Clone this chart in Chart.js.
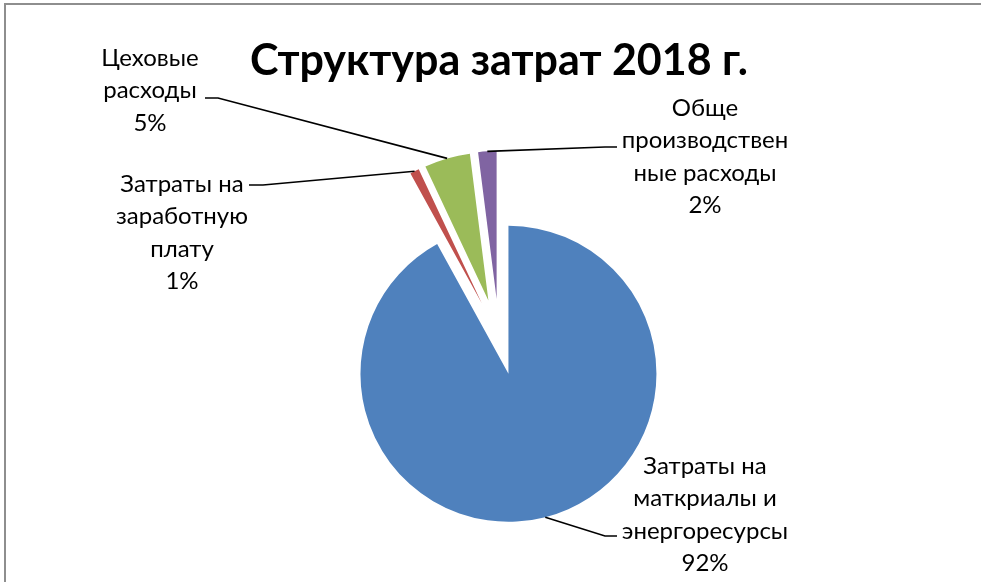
<!DOCTYPE html>
<html>
<head>
<meta charset="utf-8">
<script src="https://cdn.jsdelivr.net/npm/chart.js@4.4.1/dist/chart.umd.min.js"></script>
<style>
  html, body { margin: 0; padding: 0; background: #fff; overflow: hidden; }
  #wrap { position: relative; width: 981px; height: 582px; overflow: hidden; }
  #frame { position: absolute; left: 4px; top: 3px; width: 1100px; height: 700px;
           border-left: 2px solid #8e8e8e; border-top: 2px solid #8e8e8e; }
  canvas { position: absolute; left: 0; top: 0; }
</style>
</head>
<body>
<div id="wrap">
  <div id="frame"></div>
  <canvas id="c" width="981" height="582"></canvas>
</div>
<script>
// Cost structure for 2018, percent of total
const chartTitle = 'Структура затрат 2018 г.';
const categories = [
  ['Затраты на', 'маткриалы и', 'энергоресурсы'],
  ['Затраты на', 'заработную', 'плату'],
  ['Цеховые', 'расходы'],
  ['Обще', 'производствен', 'ные расходы']
];
const shares = [92, 1, 5, 2];
const sliceColors = ['#4F81BD', '#C0504D', '#9BBB59', '#8064A2'];

// Where each data label sits: text centre x, first-line centre y,
// the point where the leader meets the label, and the elbow x of the leader.
const labelLayout = [
  { cx: 705, top: 466, anchor: [617, 536], elbow: 605 },
  { cx: 182, top: 184, anchor: [249, 185], elbow: 263 },
  { cx: 150, top: 58,  anchor: [205, 98],  elbow: 218 },
  { cx: 705, top: 108, anchor: [617, 147], elbow: 605 }
];
const lineStep = 32.5;
const explodePx = 38;   // every slice pulled out from the centre by this much
const pieRadius = 148;

const total = shares.reduce((a, b) => a + b, 0);

// Exploded pie: push every arc outward along its bisector, keeping its radius and angles
const explodePlugin = {
  id: 'explodeSlices',
  afterDatasetUpdate(chart, args) {
    args.meta.data.forEach(arc => {
      const mid = (arc.startAngle + arc.endAngle) / 2;
      arc.x += Math.cos(mid) * explodePx;
      arc.y += Math.sin(mid) * explodePx;
    });
  }
};

const labelPlugin = {
  id: 'pieLabels',
  afterDatasetsDraw(chart) {
    const ctx = chart.ctx;
    const meta = chart.getDatasetMeta(0);
    ctx.save();

    // title
    ctx.fillStyle = '#000';
    ctx.font = 'bold 43px Lato';
    ctx.textAlign = 'center';
    ctx.textBaseline = 'alphabetic';
    ctx.fillText(chartTitle, 499, 75);

    meta.data.forEach((arc, i) => {
      const mid = (arc.startAngle + arc.endAngle) / 2;
      const rx = arc.x + Math.cos(mid) * arc.outerRadius;
      const ry = arc.y + Math.sin(mid) * arc.outerRadius;
      const lay = labelLayout[i];

      // leader line
      ctx.strokeStyle = '#000';
      ctx.lineWidth = 1.6;
      ctx.beginPath();
      ctx.moveTo(rx, ry);
      ctx.lineTo(lay.elbow, lay.anchor[1]);
      ctx.lineTo(lay.anchor[0], lay.anchor[1]);
      ctx.stroke();

      // label text
      const lines = categories[i].concat([Math.round(shares[i] / total * 100) + '%']);
      ctx.font = '24px Lato';
      ctx.textBaseline = 'middle';
      ctx.textAlign = 'center';
      ctx.fillStyle = '#000';
      lines.forEach((t, k) => ctx.fillText(t, lay.cx, lay.top + k * lineStep));
    });
    ctx.restore();
  }
};

new Chart(document.getElementById('c'), {
  type: 'pie',
  data: {
    labels: categories.map(c => c.join(' ')),
    datasets: [{
      data: shares,
      backgroundColor: sliceColors,
      borderWidth: 0,
      radius: pieRadius
    }]
  },
  options: {
    responsive: false,
    animation: false,
    events: [],
    layout: { padding: { left: 17, right: 0, top: 92, bottom: 0 } },
    plugins: {
      legend: { display: false },
      title: { display: false },
      tooltip: { enabled: false }
    }
  },
  plugins: [explodePlugin, labelPlugin]
});
</script>
</body>
</html>
